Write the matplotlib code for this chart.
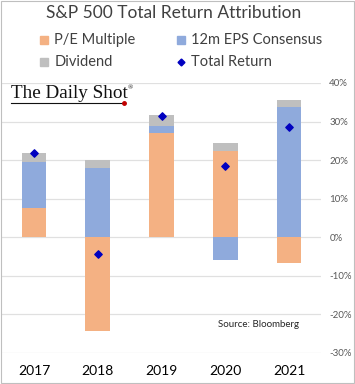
import numpy as np
import matplotlib.pyplot as plt
from matplotlib.patches import Rectangle
from matplotlib.lines import Line2D

plt.rcParams["font.family"] = ["Lato", "DejaVu Sans"]

years = ["2017", "2018", "2019", "2020", "2021"]
pe_multiple = [7.5, -24.2, 27.0, 22.3, -6.8]
eps_consensus = [12.0, 17.9, 1.8, -6.0, 33.8]
dividend = [2.3, 2.0, 2.8, 2.1, 1.8]
total_return = [21.8, -4.4, 31.5, 18.4, 28.6]

c_pe = "#F4B183"
c_eps = "#8FAADC"
c_div = "#BFBFBF"
c_tr = "#0000C0"

fig = plt.figure(figsize=(3.55, 3.84), dpi=100)
ax = fig.add_axes([0.006, 0.081, 0.898, 0.703])

x = np.arange(len(years))
w = 0.39
pe = np.array(pe_multiple)
eps = np.array(eps_consensus)
div = np.array(dividend)

# stack positives and negatives separately, like Excel
pos = np.zeros(len(x))
neg = np.zeros(len(x))
for vals, col in [(pe, c_pe), (eps, c_eps), (div, c_div)]:
    bottoms = np.where(vals >= 0, pos, neg)
    ax.bar(x, vals, w, bottom=bottoms, color=col, zorder=2)
    pos = pos + np.where(vals >= 0, vals, 0)
    neg = neg + np.where(vals < 0, vals, 0)

ax.scatter(x, total_return, marker="D", s=14, color=c_tr, zorder=3)

ax.set_xlim(-0.5, len(x) - 0.5)
ax.set_ylim(-30, 40)
ax.set_yticks(range(-30, 41, 10))
ax.set_yticklabels([f"{v}%" for v in range(-30, 41, 10)])
ax.yaxis.tick_right()
ax.tick_params(axis="y", length=0, labelsize=7, labelcolor="#595959", pad=6)
ax.set_xticks(x)
ax.set_xticklabels(years)
ax.tick_params(axis="x", length=0, labelsize=10, pad=9)
ax.grid(axis="y", color="#E0E0E0", linewidth=0.9, zorder=0)
for s in ax.spines.values():
    s.set_visible(False)

ax.text(0.93, 0.095, "Source: Bloomberg", transform=ax.transAxes, ha="right",
        fontsize=7, color="#262626")

# title
fig.text(0.49, 0.965, "S&P 500 Total Return Attribution", ha="center", va="center",
         fontsize=12.5, color="#404040")

# legend
items = [("P/E Multiple", c_pe, "s", 0.125, 0.896),
         ("12m EPS Consensus", c_eps, "s", 0.51, 0.896),
         ("Dividend", c_div, "s", 0.125, 0.838),
         ("Total Return", c_tr, "D", 0.51, 0.838)]
for label, col, mk, lx, ly in items:
    fig.add_artist(Line2D([lx], [ly], marker=mk, color=col, markersize=6 if mk == "s" else 3.5,
                          linestyle="none", transform=fig.transFigure))
    fig.text(lx + 0.028, ly, label, va="center", fontsize=10.5, color="#404040")

# logo
fig.text(0.03, 0.745, "The Daily Shot", family=["Liberation Serif", "DejaVu Serif"],
         fontsize=13.8, va="baseline", color="#111111")
fig.text(0.36, 0.768, "®", family=["Liberation Serif", "DejaVu Serif"], fontsize=5,
         color="#111111")
fig.add_artist(Line2D([0.03, 0.345], [0.733, 0.733], color="#111111", linewidth=0.8,
                      transform=fig.transFigure))
fig.add_artist(Line2D([0.35], [0.733], marker="o", markersize=2.5, color="#C00000",
                      transform=fig.transFigure))

fig.add_artist(Rectangle((0.002, 0.002), 0.996, 0.996, fill=False, edgecolor="#BFBFBF",
                         linewidth=0.8, transform=fig.transFigure))

fig.savefig("out.png", dpi=100)
